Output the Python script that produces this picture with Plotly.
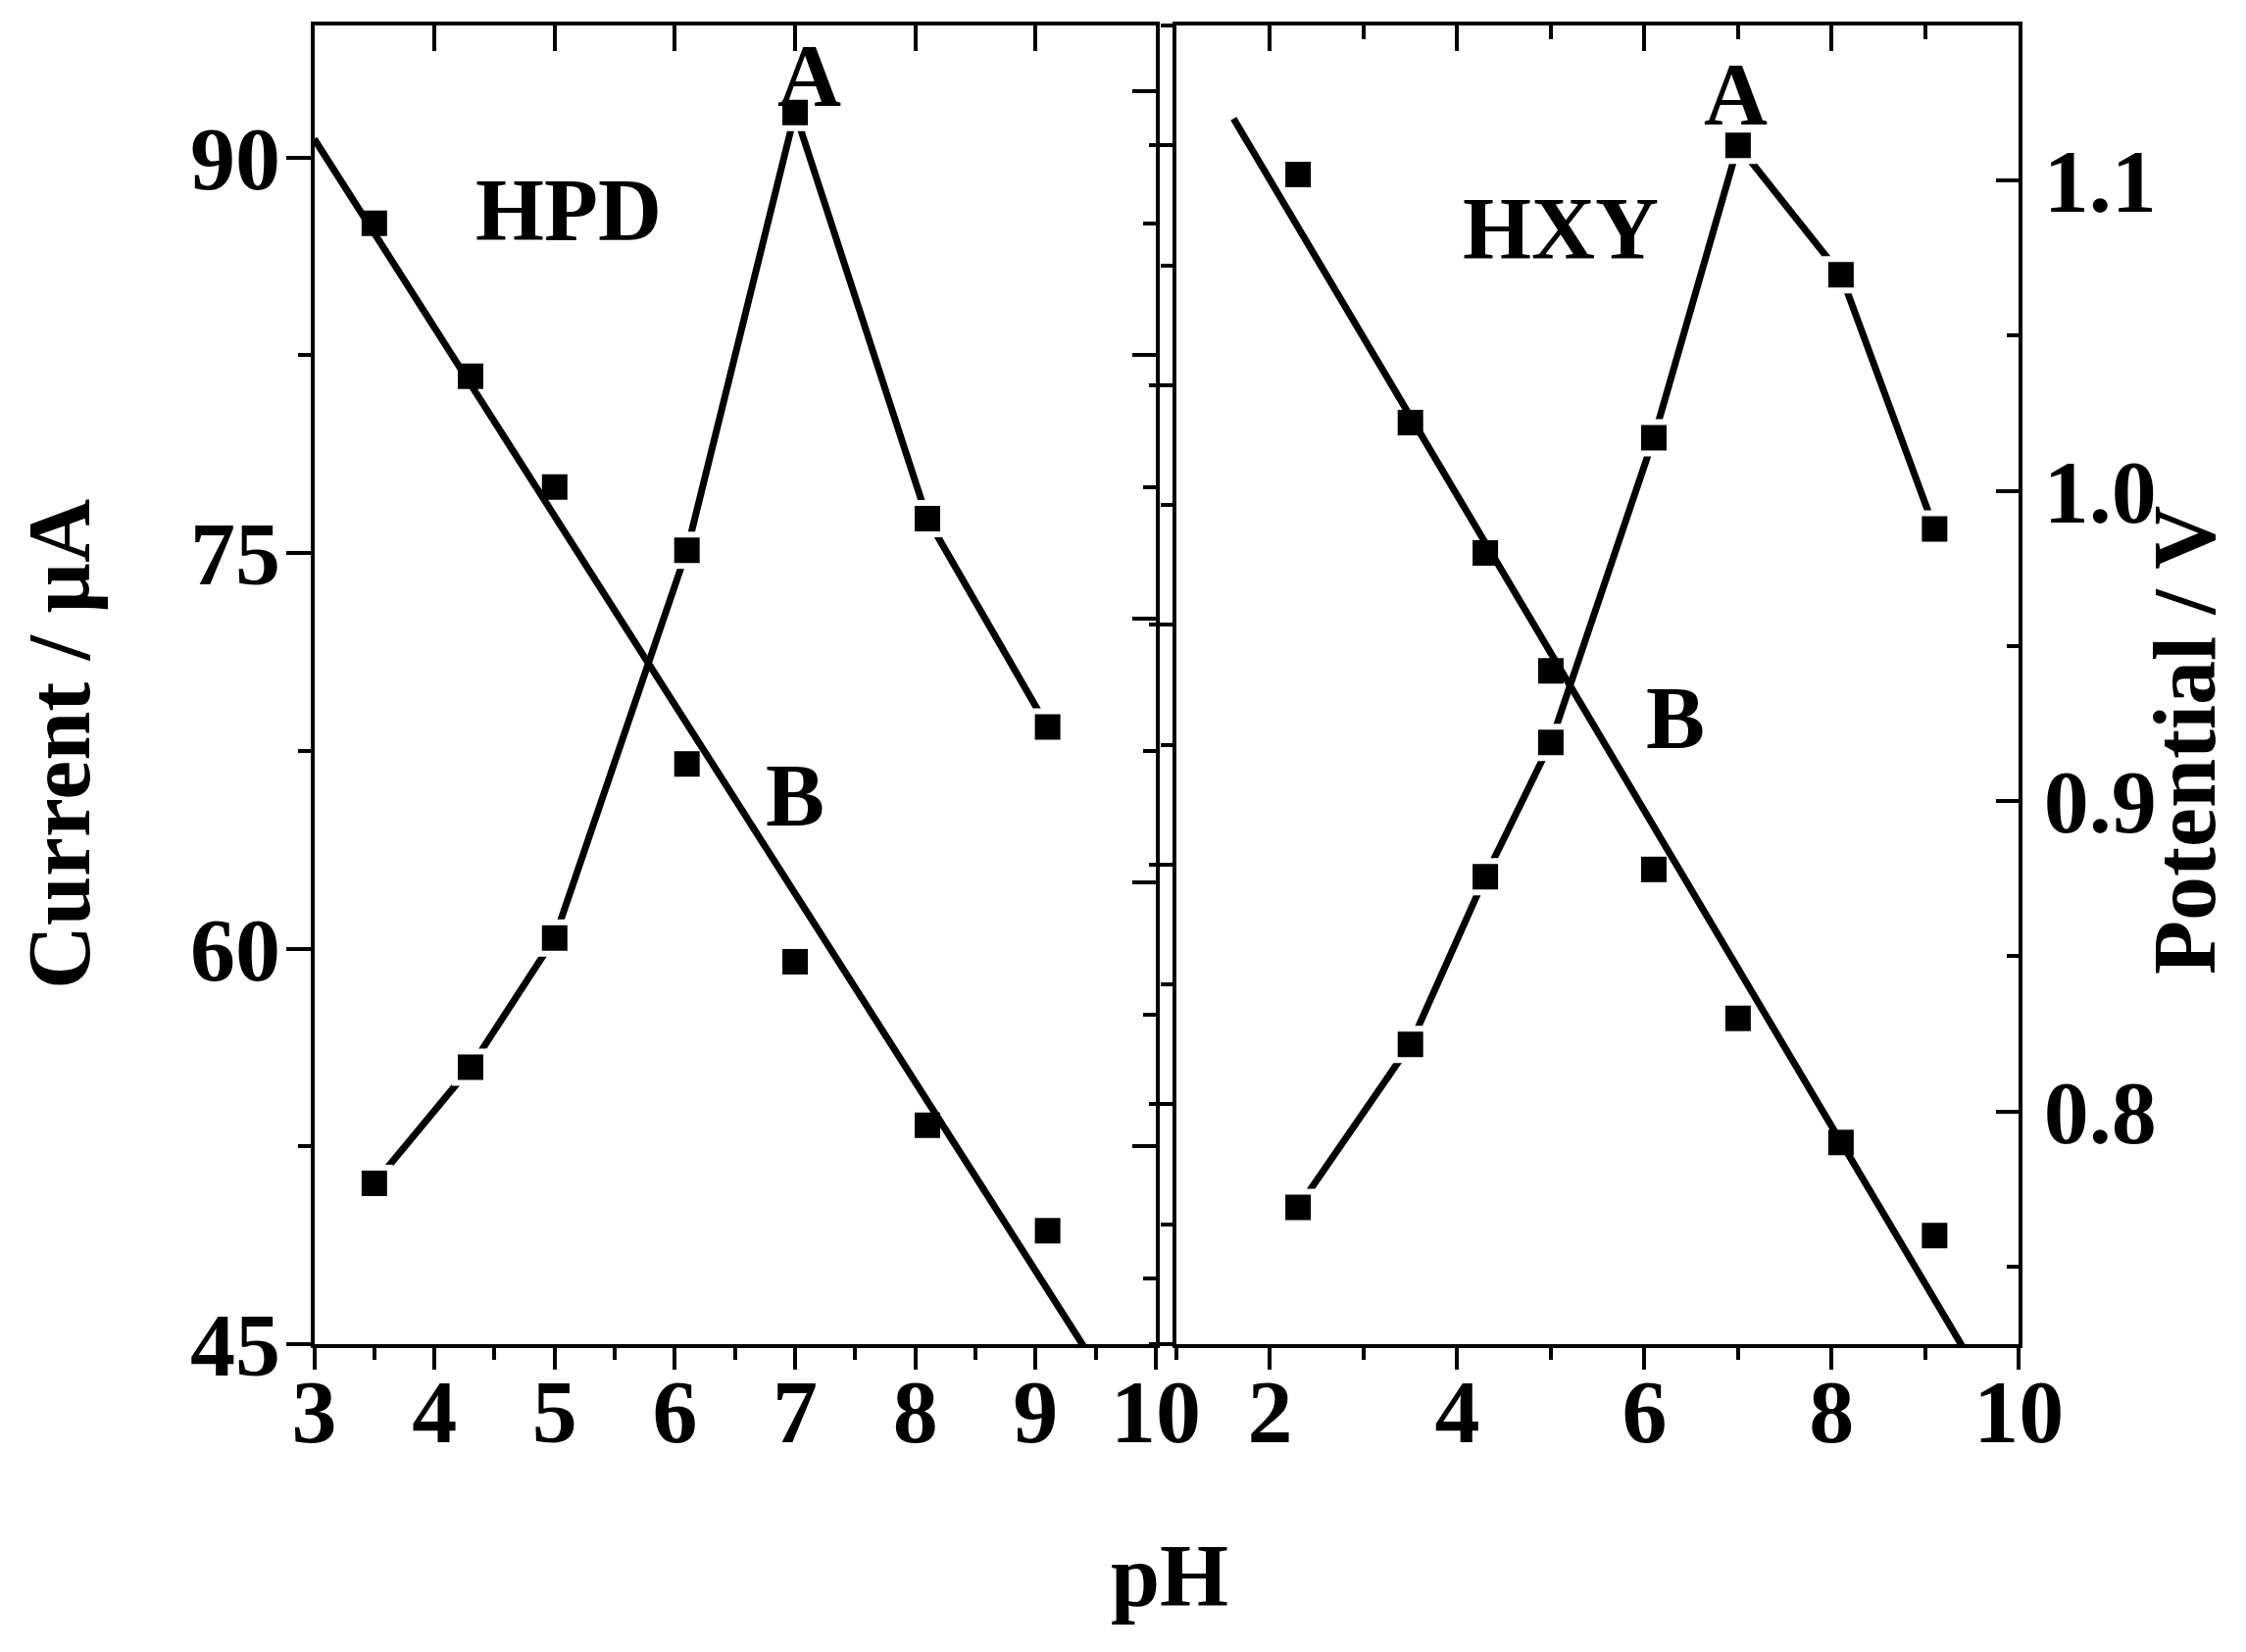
import plotly.graph_objects as go

# ---------------- data ----------------
# HPD panel (left): A = current (left axis), B = potential (hidden right axis)
ph_hpd = [3.5, 4.3, 5.0, 6.1, 7.0, 8.1, 9.1]
current_hpd = [51.1, 55.5, 60.4, 75.1, 91.7, 76.3, 68.4]
potential_hpd = [1.050, 0.992, 0.950, 0.845, 0.770, 0.708, 0.668]
fit_ph_hpd = [3.0, 9.5]
fit_potential_hpd = [1.082, 0.617]

# HXY panel (right): A = current (hidden left axis), B = potential (right axis)
ph_hxy = [2.3, 3.5, 4.3, 5.0, 6.1, 7.0, 8.1, 9.1]
current_hxy = [45.7, 52.5, 59.5, 65.1, 77.8, 90.0, 84.6, 74.0]
potential_hxy = [1.102, 1.022, 0.980, 0.942, 0.878, 0.830, 0.790, 0.760]
fit_ph_hxy = [1.61, 9.5]
fit_potential_hxy = [1.120, 0.719]

# ---------------- styling ----------------
PAGE_W, PAGE_H = 2291, 1685
BODY = 8                      # default page margin of the html body
W, H = PAGE_W - 2 * BODY, PAGE_H - 2 * BODY
FAM = "Liberation Serif"
TICKFONT = dict(family=FAM, size=92, color="black", weight="bold")
TXTFONT = dict(family=FAM, size=90, color="black", weight="bold")
LW = 7
MS = 26
AXW = 4

PLOT_TOP, PLOT_BOT = 26, 1371          # page pixels
MT = PLOT_TOP - BODY
MB = H - (PLOT_BOT - BODY)

def fx(px):
    return (px - BODY) / W
def fy(py):
    return ((PLOT_BOT - BODY) - (py - BODY)) / (PLOT_BOT - PLOT_TOP)

left_dom = [fx(320.5), fx(1179.0)]
right_dom = [fx(1200.0), fx(2059.3)]

fig = go.Figure()

def add_panel(xa_a, ya_a, xa_b, ya_b, ph, cur, pot, fph, fpot):
    # curve A: line segments + markers with white halo (gap to symbol)
    fig.add_trace(go.Scatter(x=ph, y=cur, mode="lines", xaxis=xa_a, yaxis=ya_a,
                             line=dict(color="black", width=LW), showlegend=False,
                             hoverinfo="skip"))
    fig.add_trace(go.Scatter(x=ph, y=cur, mode="markers", xaxis=xa_a, yaxis=ya_a,
                             marker=dict(symbol="square", size=MS + 6, color="black",
                                         line=dict(color="white", width=6)),
                             showlegend=False, hoverinfo="skip"))
    # curve B: linear fit + markers
    fig.add_trace(go.Scatter(x=fph, y=fpot, mode="lines", xaxis=xa_b, yaxis=ya_b,
                             line=dict(color="black", width=LW), showlegend=False,
                             hoverinfo="skip"))
    fig.add_trace(go.Scatter(x=ph, y=pot, mode="markers", xaxis=xa_b, yaxis=ya_b,
                             marker=dict(symbol="square", size=MS, color="black",
                                         line=dict(width=0)),
                             showlegend=False, hoverinfo="skip"))

add_panel("x", "y", "x3", "y3", ph_hpd, current_hpd, potential_hpd,
          fit_ph_hpd, fit_potential_hpd)
add_panel("x4", "y4", "x2", "y2", ph_hxy, current_hxy, potential_hxy,
          fit_ph_hxy, fit_potential_hxy)

common = dict(showgrid=False, zeroline=False, showline=True, linecolor="black",
              linewidth=AXW, tickcolor="black", tickwidth=AXW, tickfont=TICKFONT,
              automargin=False)

fig.update_layout(
    template="none",
    width=W, height=H, autosize=False,
    paper_bgcolor="white", plot_bgcolor="white",
    margin=dict(l=0, r=0, t=MT, b=MB, pad=0, autoexpand=False),
    # ---- left panel ----
    xaxis=dict(domain=left_dom, anchor="y", range=[3, 10], tickmode="linear",
               tick0=3, dtick=1, ticks="outside", ticklen=22,
               minor=dict(dtick=0.5, tick0=3, ticks="outside", ticklen=12,
                          tickwidth=AXW, tickcolor="black"),
               ticklabelstandoff=-36, **common),
    xaxis3=dict(overlaying="x", anchor="y", side="top", range=[3, 10],
                tickmode="linear", tick0=3, dtick=1, ticks="inside", ticklen=26,
                showticklabels=False, **common),
    yaxis=dict(domain=[0, 1], anchor="x", range=[45, 95], tickmode="linear",
               tick0=45, dtick=15, ticks="outside", ticklen=25,
               minor=dict(dtick=7.5, tick0=45, ticks="outside", ticklen=13,
                          tickwidth=AXW, tickcolor="black"),
               ticklabelstandoff=-13, **common),
    yaxis3=dict(overlaying="y", anchor="x", side="right", range=[0.625, 1.125],
                tickmode="linear", tick0=0.7, dtick=0.1, ticks="inside", ticklen=24,
                minor=dict(dtick=0.05, tick0=0.7, ticks="inside", ticklen=13,
                           tickwidth=AXW, tickcolor="black"),
                showticklabels=False, **common),
    # ---- right panel ----
    xaxis2=dict(domain=right_dom, anchor="y2", range=[1, 10], tickmode="linear",
                tick0=0, dtick=2, ticks="outside", ticklen=22,
                minor=dict(dtick=1, tick0=0, ticks="outside", ticklen=12,
                           tickwidth=AXW, tickcolor="black"),
                ticklabelstandoff=-36, **common),
    xaxis4=dict(overlaying="x2", anchor="y2", side="top", range=[1, 10],
                tickmode="linear", tick0=0, dtick=2, ticks="inside", ticklen=26,
                minor=dict(dtick=1, tick0=0, ticks="inside", ticklen=14,
                           tickwidth=AXW, tickcolor="black"),
                showticklabels=False, **common),
    yaxis2=dict(domain=[0, 1], anchor="x2", side="right", range=[0.725, 1.15],
                tickmode="linear", tick0=0.8, dtick=0.1, tickformat=".1f",
                ticks="inside", ticklen=23,
                minor=dict(dtick=0.05, tick0=0.8, ticks="inside", ticklen=12,
                           tickwidth=AXW, tickcolor="black"),
                ticklabelstandoff=3, **common),
    yaxis4=dict(overlaying="y2", anchor="x2", side="left", range=[40, 95],
                tickmode="linear", tick0=50, dtick=10, ticks="outside", ticklen=24,
                minor=dict(dtick=5, tick0=50, ticks="outside", ticklen=12,
                           tickwidth=AXW, tickcolor="black"),
                showticklabels=False, **common),
)

ann = []
# axis titles
ann.append(dict(text="Current / µA", xref="paper", yref="paper",
                x=fx(60), y=fy(759), textangle=-90, borderpad=0,
                showarrow=False, xanchor="center", yanchor="middle", font=TXTFONT))
ann.append(dict(text="Potential / V", xref="paper", yref="paper",
                x=fx(2229), y=fy(755), textangle=-90, borderpad=0,
                showarrow=False, xanchor="center", yanchor="middle", font=TXTFONT))
ann.append(dict(text="pH", xref="paper", yref="paper",
                x=fx(1193), y=fy(1607),
                showarrow=False, xanchor="center", yanchor="middle", font=TXTFONT))
# panel labels
ann.append(dict(text="HPD", xref="x", yref="y", x=5.115, y=88.0,
                showarrow=False, xanchor="center", yanchor="middle", font=TXTFONT))
ann.append(dict(text="A", xref="x", yref="y", x=7.12, y=93.1,
                showarrow=False, xanchor="center", yanchor="middle", font=TXTFONT))
ann.append(dict(text="B", xref="x", yref="y", x=7.0, y=65.8,
                showarrow=False, xanchor="center", yanchor="middle", font=TXTFONT))
ann.append(dict(text="HXY", xref="x2", yref="y2", x=5.109, y=1.0845,
                showarrow=False, xanchor="center", yanchor="middle", font=TXTFONT))
ann.append(dict(text="A", xref="x2", yref="y2", x=6.978, y=1.1278,
                showarrow=False, xanchor="center", yanchor="middle", font=TXTFONT))
ann.append(dict(text="B", xref="x2", yref="y2", x=6.333, y=0.9269,
                showarrow=False, xanchor="center", yanchor="middle", font=TXTFONT))
fig.update_layout(annotations=ann)

fig.write_html("out.html")
